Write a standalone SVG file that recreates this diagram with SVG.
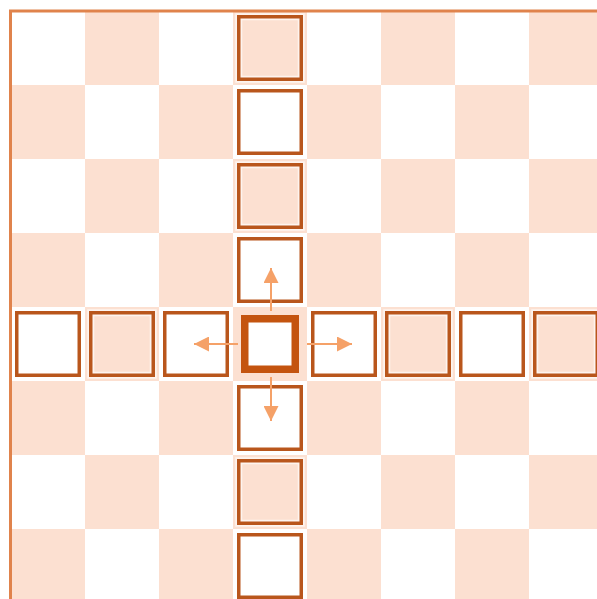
<svg xmlns="http://www.w3.org/2000/svg" width="597" height="599" viewBox="0 0 597 599">
  <defs>
    <pattern id="checker" patternUnits="userSpaceOnUse" x="11" y="11" width="148" height="148">
      <rect x="74" y="0" width="74" height="74" fill="#FCE0D1"/>
      <rect x="0" y="74" width="74" height="74" fill="#FCE0D1"/>
    </pattern>
    <marker id="head" viewBox="0 0 15 15" refX="15" refY="7.5" markerWidth="15" markerHeight="15" markerUnits="userSpaceOnUse" orient="auto">
      <path d="M0,0 L15,7.5 L0,15 Z" fill="#F5A168"/>
    </marker>
    <style>
      .halo { fill: none; stroke: #ffffff; stroke-width: 7; stroke-opacity: 0.65; }
      .sq { fill: none; stroke: #B9561C; stroke-width: 3.5; }
      .center { fill: #ffffff; stroke: #C4540F; stroke-width: 7.5; }
      .arrow { stroke: #F5A168; stroke-width: 2; fill: none; marker-end: url(#head); }
    </style>
  </defs>
  <rect width="597" height="599" fill="#ffffff"/>
  <rect x="11" y="11" width="592" height="592" fill="url(#checker)"/>
  <rect x="10.5" y="11" width="600" height="600" fill="none" stroke="#E0834C" stroke-width="3"/>

  <g id="col-r0"><rect class="halo" x="238.75" y="16.75" width="62.5" height="62.5"/><rect class="sq" x="238.75" y="16.75" width="62.5" height="62.5"/></g>
  <g id="col-r1"><rect class="halo" x="238.75" y="90.75" width="62.5" height="62.5"/><rect class="sq" x="238.75" y="90.75" width="62.5" height="62.5"/></g>
  <g id="col-r2"><rect class="halo" x="238.75" y="164.75" width="62.5" height="62.5"/><rect class="sq" x="238.75" y="164.75" width="62.5" height="62.5"/></g>
  <g id="col-r3"><rect class="halo" x="238.75" y="238.75" width="62.5" height="62.5"/><rect class="sq" x="238.75" y="238.75" width="62.5" height="62.5"/></g>
  <g id="col-r5"><rect class="halo" x="238.75" y="386.75" width="62.5" height="62.5"/><rect class="sq" x="238.75" y="386.75" width="62.5" height="62.5"/></g>
  <g id="col-r6"><rect class="halo" x="238.75" y="460.75" width="62.5" height="62.5"/><rect class="sq" x="238.75" y="460.75" width="62.5" height="62.5"/></g>
  <g id="col-r7"><rect class="halo" x="238.75" y="534.75" width="62.5" height="62.5"/><rect class="sq" x="238.75" y="534.75" width="62.5" height="62.5"/></g>

  <g id="row-c0"><rect class="halo" x="16.75" y="312.75" width="62.5" height="62.5"/><rect class="sq" x="16.75" y="312.75" width="62.5" height="62.5"/></g>
  <g id="row-c1"><rect class="halo" x="90.75" y="312.75" width="62.5" height="62.5"/><rect class="sq" x="90.75" y="312.75" width="62.5" height="62.5"/></g>
  <g id="row-c2"><rect class="halo" x="164.75" y="312.75" width="62.5" height="62.5"/><rect class="sq" x="164.75" y="312.75" width="62.5" height="62.5"/></g>
  <g id="row-c4"><rect class="halo" x="312.75" y="312.75" width="62.5" height="62.5"/><rect class="sq" x="312.75" y="312.75" width="62.5" height="62.5"/></g>
  <g id="row-c5"><rect class="halo" x="386.75" y="312.75" width="62.5" height="62.5"/><rect class="sq" x="386.75" y="312.75" width="62.5" height="62.5"/></g>
  <g id="row-c6"><rect class="halo" x="460.75" y="312.75" width="62.5" height="62.5"/><rect class="sq" x="460.75" y="312.75" width="62.5" height="62.5"/></g>
  <g id="row-c7"><rect class="halo" x="534.75" y="312.75" width="62.5" height="62.5"/><rect class="sq" x="534.75" y="312.75" width="62.5" height="62.5"/></g>

  <g id="center"><rect class="center" x="244.75" y="318.75" width="50.5" height="50.5"/></g>

  <g id="connectors">
    <line class="arrow" x1="271" y1="311" x2="271" y2="268"/>
    <line class="arrow" x1="271" y1="377" x2="271" y2="421"/>
    <line class="arrow" x1="238" y1="344" x2="194" y2="344"/>
    <line class="arrow" x1="307" y1="344" x2="352" y2="344"/>
  </g>
</svg>
